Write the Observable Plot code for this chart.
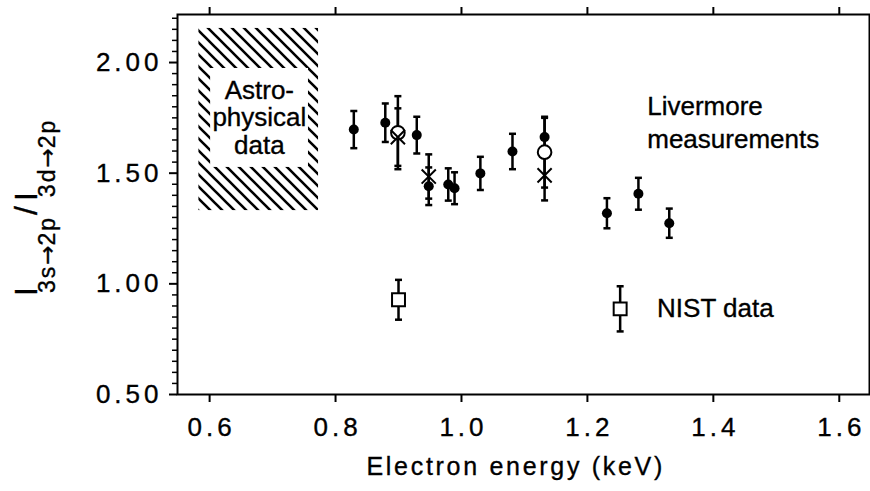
<!DOCTYPE html>
<html><head><meta charset="utf-8">
<script src="https://cdn.jsdelivr.net/npm/d3@7"></script>
<script src="https://cdn.jsdelivr.net/npm/@observablehq/plot@0.6"></script>
<style>
body{margin:0;background:#fff;}
svg text{font-family:"Liberation Sans",Arial,Helvetica,sans-serif;stroke:black;stroke-width:0.35px;}
</style></head><body><div id="chart"></div>
<script>
// Livermore measurements (filled circles)
const livEnergy = [0.829, 0.879, 0.929, 0.948, 0.979, 0.989, 1.030, 1.081, 1.132, 1.231, 1.281, 1.330];
const livRatio  = [1.697, 1.728, 1.672, 1.441, 1.449, 1.432, 1.499, 1.598, 1.663, 1.319, 1.407, 1.274];
const livErr    = [0.084, 0.087, 0.083, 0.085, 0.073, 0.072, 0.075, 0.080, 0.087, 0.068, 0.072, 0.066];
// open circles
const openEnergy = [0.899, 1.132];
const openRatio  = [1.683, 1.595];
const openErr    = [0.165, 0.160];
// crosses
const crossEnergy = [0.899, 0.948, 1.132];
const crossRatio  = [1.663, 1.485, 1.490];
const crossErr    = [0.130, 0.100, 0.113];
// NIST data (open squares)
const nistEnergy = [0.900, 1.252];
const nistRatio  = [0.928, 0.887];
const nistErr    = [0.090, 0.102];
// astrophysical data range (hatched)
const astroEnergy = [0.583, 0.773];
const astroRatio  = [1.331, 2.154];
// ticks
const xTicks = [0.6, 0.8, 1.0, 1.2, 1.4, 1.6];
const xTickLabels = ["0.6", "0.8", "1.0", "1.2", "1.4", "1.6"];
const yTicks = [0.5, 1.0, 1.5, 2.0];
const yTickLabels = ["0.50", "1.00", "1.50", "2.00"];
const yMinor = d3.range(0.55, 2.2001, 0.05).map(v => +v.toFixed(2)).filter(v => !yTicks.some(t => Math.abs(t - v) < 1e-6));

const toRows = (xs, ys, es) => xs.map((x, i) => ({x, y: ys[i], e: es[i]}));
const liv = toRows(livEnergy, livRatio, livErr);
const open = toRows(openEnergy, openRatio, openErr);
const cross = toRows(crossEnergy, crossRatio, crossErr);
const nist = toRows(nistEnergy, nistRatio, nistErr);
const allBars = [...liv, ...open, ...cross, ...nist];
const caps = allBars.flatMap(d => [{x: d.x, y: d.y - d.e}, {x: d.x, y: d.y + d.e}]);
const capSymbol = {draw(ctx, size) { const w = Math.sqrt(size / Math.PI); ctx.moveTo(-w, 0); ctx.lineTo(w, 0); }};

const hatch = [{x1: astroEnergy[0], x2: astroEnergy[1], y1: astroRatio[0], y2: astroRatio[1]}];
const hole = [{x1: 0.6016, x2: 0.757, y1: 1.526, y2: 1.973}];

const plot = Plot.plot({
  width: 870, height: 491,
  marginLeft: 177, marginRight: 1, marginTop: 14, marginBottom: 97,
  style: {fontSize: "24px", fontFamily: "'Liberation Sans', Arial, sans-serif", color: "black", background: "white"},
  x: {domain: [0.549, 1.648], axis: null},
  y: {domain: [0.5, 2.217], axis: null},
  marks: [
    Plot.rect(hatch, {x1: "x1", x2: "x2", y1: "y1", y2: "y2", fill: "url(#hatch)"}),
    Plot.rect(hole, {x1: "x1", x2: "x2", y1: "y1", y2: "y2", fill: "white"}),
    Plot.text(["Astro-\nphysical\ndata"], {x: 0.679, y: 1.9257, lineAnchor: "top", lineHeight: 1.06, fontSize: 26, fill: "black"}),
    Plot.text(["Livermore\nmeasurements"], {x: 1.295, y: 1.87, textAnchor: "start", lineAnchor: "top", lineHeight: 1.27, fontSize: 26, fill: "black"}),
    Plot.text(["NIST data"], {x: 1.3106, y: 0.9315, textAnchor: "start", lineAnchor: "top", fontSize: 26, fill: "black"}),
    Plot.ruleX(allBars, {x: "x", y1: d => d.y - d.e, y2: d => d.y + d.e, stroke: "black", strokeWidth: 2.5}),
    Plot.dot(caps, {x: "x", y: "y", symbol: capSymbol, r: 3.5, stroke: "black", strokeWidth: 2.5}),
    Plot.dot(liv, {x: "x", y: "y", r: 5, fill: "black"}),
    Plot.dot(open, {x: "x", y: "y", r: 6.8, fill: "white", stroke: "black", strokeWidth: 2}),
    Plot.dot(cross, {x: "x", y: "y", r: 6.5, symbol: "times", stroke: "black", strokeWidth: 2}),
    Plot.dot(nist, {x: "x", y: "y", r: 7.3, symbol: "square", fill: "white", stroke: "black", strokeWidth: 2}),
    Plot.axisY({ticks: yMinor, tickSize: 5, tickFormat: () => "", label: null, strokeWidth: 1.5}),
    Plot.axisY({ticks: yTicks, tickSize: 8, tickFormat: () => "", label: null, strokeWidth: 2}),
    Plot.axisX({ticks: xTicks, tickSize: 8, tickFormat: () => "", label: null, strokeWidth: 2}),
    Plot.axisX({anchor: "top", ticks: xTicks, tickSize: 8, tickFormat: () => "", label: null, strokeWidth: 2}),
    Plot.text(yTicks, {y: d => d, text: (d, i) => yTickLabels[i], frameAnchor: "left", textAnchor: "end", lineAnchor: "middle", dx: -15, fontSize: 26, fill: "black"}),
    Plot.text(xTicks, {x: d => d, text: (d, i) => xTickLabels[i], frameAnchor: "bottom", lineAnchor: "top", dy: 23, dx: 2, fontSize: 26, fill: "black"}),
    Plot.frame({stroke: "black", strokeWidth: 2}),
    Plot.text(["Electron energy (keV)"], {x: 1.084, frameAnchor: "bottom", lineAnchor: "top", dy: 63, dx: 1.35, fontSize: 25, fill: "black"})
  ]
});
document.getElementById("chart").append(plot);

const svg = d3.select(plot);
const defs = svg.insert("defs", ":first-child");
const pat = defs.append("pattern").attr("id", "hatch").attr("patternUnits", "userSpaceOnUse").attr("width", 12).attr("height", 12);
pat.append("path").attr("d", "M-3,-3L15,15M-3,9L3,15M9,-3L15,3").attr("stroke", "black").attr("stroke-width", 2.6);

// letter spacing for tick labels and axis title
const tickLabelSet = new Set([...yTickLabels, ...xTickLabels]);
svg.selectAll("text").filter(function(){ return tickLabelSet.has(this.textContent); }).style("letter-spacing", "4px");
svg.selectAll("text").filter(function(){ return this.textContent === "Electron energy (keV)"; }).style("letter-spacing", "2.7px");

// y-axis label with subscripts
const lab = svg.append("text").attr("transform", "translate(37,296) rotate(-90)").attr("fill", "black")
  .attr("text-anchor", "start")
  .style("font-family", "'Liberation Sans', Arial, sans-serif");
lab.append("tspan").attr("font-size", 32).text("I");
lab.append("tspan").attr("font-size", 23).attr("dy", 18).attr("dx", -6).style("letter-spacing", "2px").text("3s");
lab.append("tspan").attr("font-size", 23).style("font-family", "'DejaVu Sans'").text("→");
lab.append("tspan").attr("font-size", 23).style("letter-spacing", "2px").text("2p");
lab.append("tspan").attr("font-size", 32).attr("dy", -18).attr("dx", 1).text("/");
lab.append("tspan").attr("font-size", 32).attr("dx", 5).text("I");
lab.append("tspan").attr("font-size", 23).attr("dy", 18).attr("dx", -5).style("letter-spacing", "2px").text("3d");
lab.append("tspan").attr("font-size", 23).style("font-family", "'DejaVu Sans'").text("→");
lab.append("tspan").attr("font-size", 23).style("letter-spacing", "2px").text("2p");
</script></body></html>
